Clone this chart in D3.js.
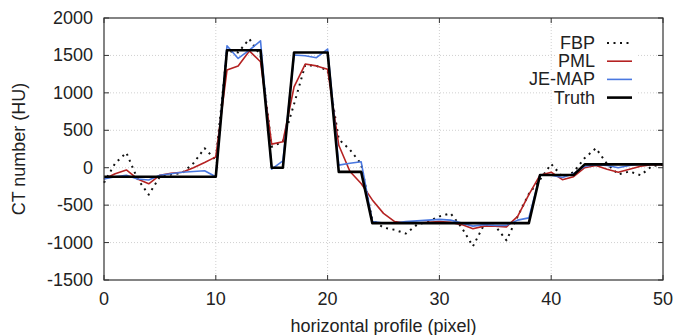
<!DOCTYPE html>
<head>
  <meta charset="utf-8">
  <script src="https://cdn.jsdelivr.net/npm/d3@7"></script>
  <style>
    body { margin: 0; background: #fff; }
    svg { font-family: "Liberation Sans", Arial, sans-serif; }
    .grid line { stroke: #d0d0d0; stroke-dasharray: 1,2; }
    .tick-label { font-size: 18px; fill: #222; }
    .axis-title { font-size: 18px; fill: #222; }
    .series { fill: none; stroke-linejoin: round; }
  </style>
</head>
<body>
<div id="chart"></div>
<script>

// pixel index along the profile (0..50)
var pixels = d3.range(0, 51);

var truth = [-120, -120, -120, -120, -120, -120, -120, -120, -120, -120, -120,
  1570, 1570, 1570, 1570, 0, 0, 1540, 1540, 1540, 1540,
  -55, -55, -55, -740, -740, -740, -740, -740, -740, -740,
  -740, -740, -740, -740, -740, -740, -740, -740, -97, -97,
  -97, -97, 45, 45, 45, 45, 45, 45, 45, 45];

var fbp = [-200, 60, 200, -150, -360, -120, -90, -70, 60, 260, 100,
  1560, 1540, 1720, 1500, 280, 350, 850, 1370, 1360, 1300,
  380, 240, 50, -700, -800, -830, -880, -760, -720, -650,
  -610, -800, -1050, -760, -780, -970, -650, -350, -160, 50,
  -120, -60, 130, 260, 50, -90, -50, -100, 20, 40];

var pml = [-150, -80, -30, -150, -215, -100, -75, -60, 0, 70, 145,
  1305, 1360, 1560, 1415, 315, 347, 1080, 1385, 1360, 1315,
  300, -50, -210, -430, -610, -720, -740, -740, -730, -720,
  -730, -760, -815, -780, -780, -790, -650, -360, -100, -60,
  -160, -120, 0, 30, -20, -60, -20, 20, 40, 40];

var jemap = [-150, -120, -100, -150, -165, -100, -80, -60, -50, -40, -120,
  1630, 1460, 1570, 1695, -20, 90, 1505, 1495, 1470, 1585,
  35, 60, 80, -720, -740, -740, -720, -710, -700, -690,
  -700, -740, -780, -760, -770, -770, -700, -670, -100, -100,
  -130, -80, 20, 40, 30, 0, 30, 50, 50, 50];

var xTicks = [0, 10, 20, 30, 40, 50];
var yTicks = [-1500, -1000, -500, 0, 500, 1000, 1500, 2000];

var seriesNames = ["FBP", "PML", "JE-MAP", "Truth"];
var seriesData = [fbp, pml, jemap, truth];

var styles = {
  "FBP":    { color: "#111", width: 2, dash: "2,4.5" },
  "PML":    { color: "#b52222", width: 1.6, dash: null },
  "JE-MAP": { color: "#4a78e0", width: 1.6, dash: null },
  "Truth":  { color: "#000", width: 2.6, dash: null }
};

var width = 677, height = 335;
var margin = {top: 18, right: 14, bottom: 55, left: 104};

var svg = d3.select("#chart").append("svg")
    .attr("width", width)
    .attr("height", height);

var x = d3.scaleLinear()
    .domain([0, 50])
    .range([margin.left, width - margin.right]);

var y = d3.scaleLinear()
    .domain([-1500, 2000])
    .range([height - margin.bottom, margin.top]);

// grid
var grid = svg.append("g").attr("class", "grid");
grid.selectAll(".gx")
    .data(xTicks.slice(1, -1))
  .enter().append("line")
    .attr("x1", function(d) { return x(d); })
    .attr("x2", function(d) { return x(d); })
    .attr("y1", y(-1500))
    .attr("y2", y(2000));
grid.selectAll(".gy")
    .data(yTicks.slice(1, -1))
  .enter().append("line")
    .attr("x1", x(0))
    .attr("x2", x(50))
    .attr("y1", function(d) { return y(d); })
    .attr("y2", function(d) { return y(d); });

// series
var line = d3.line()
    .x(function(d, i) { return x(pixels[i]); })
    .y(function(d) { return y(d); });

seriesNames.forEach(function(name, k) {
  var s = styles[name];
  svg.append("path")
      .datum(seriesData[k])
      .attr("class", "series")
      .attr("d", line)
      .attr("stroke", s.color)
      .attr("stroke-width", s.width)
      .attr("stroke-dasharray", s.dash);
});

// frame and inward ticks
svg.append("rect")
    .attr("x", x(0))
    .attr("y", y(2000))
    .attr("width", x(50) - x(0))
    .attr("height", y(-1500) - y(2000))
    .attr("fill", "none")
    .attr("stroke", "#333")
    .attr("stroke-width", 1.2);

var tl = 5;
var ticks = svg.append("g").attr("stroke", "#333").attr("stroke-width", 1);
xTicks.forEach(function(t) {
  ticks.append("line").attr("x1", x(t)).attr("x2", x(t)).attr("y1", y(-1500)).attr("y2", y(-1500) - tl);
  ticks.append("line").attr("x1", x(t)).attr("x2", x(t)).attr("y1", y(2000)).attr("y2", y(2000) + tl);
});
yTicks.forEach(function(t) {
  ticks.append("line").attr("x1", x(0)).attr("x2", x(0) + tl).attr("y1", y(t)).attr("y2", y(t));
  ticks.append("line").attr("x1", x(50)).attr("x2", x(50) - tl).attr("y1", y(t)).attr("y2", y(t));
});

svg.selectAll(".xlab")
    .data(xTicks)
  .enter().append("text")
    .attr("class", "tick-label")
    .attr("x", function(d) { return x(d); })
    .attr("y", y(-1500) + 25)
    .attr("text-anchor", "middle")
    .text(function(d) { return d; });

svg.selectAll(".ylab")
    .data(yTicks)
  .enter().append("text")
    .attr("class", "tick-label")
    .attr("x", x(0) - 11)
    .attr("y", function(d) { return y(d) + 6; })
    .attr("text-anchor", "end")
    .text(function(d) { return d; });

svg.append("text")
    .attr("class", "axis-title")
    .attr("x", (x(0) + x(50)) / 2)
    .attr("y", 332)
    .attr("text-anchor", "middle")
    .text("horizontal profile (pixel)");

svg.append("text")
    .attr("class", "axis-title")
    .attr("transform", "translate(25," + (y(-1500) + y(2000)) / 2 + ") rotate(-90)")
    .attr("text-anchor", "middle")
    .text("CT number (HU)");

// legend
var legend = svg.append("g");
seriesNames.forEach(function(name, k) {
  var s = styles[name];
  var ly = 43 + k * 18.2;
  var txt = legend.append("text")
      .attr("class", "axis-title")
      .attr("x", 595)
      .attr("y", ly + 6)
      .attr("text-anchor", "end")
      .text(name);
  var bb = txt.node().getBBox();
  legend.insert("rect", "text")
      .attr("x", bb.x - 2)
      .attr("y", ly - 9)
      .attr("width", 636 - bb.x + 2)
      .attr("height", 18)
      .attr("fill", "#fff");
  legend.append("line")
      .attr("x1", 607)
      .attr("x2", 632)
      .attr("y1", ly)
      .attr("y2", ly)
      .attr("stroke", s.color)
      .attr("stroke-width", s.width)
      .attr("stroke-dasharray", s.dash);
});

</script>
</body>
